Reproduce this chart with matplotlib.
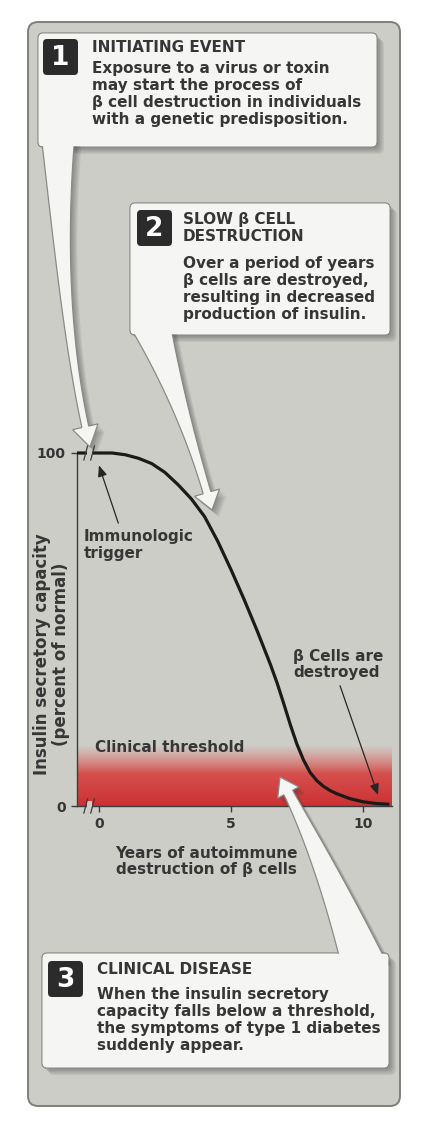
import numpy as np
import matplotlib
matplotlib.use('Agg')
import matplotlib.pyplot as plt
from matplotlib.patches import FancyBboxPatch, Polygon, Rectangle
import matplotlib.patheffects as pe

# curve: years of autoimmune destruction vs insulin capacity (%)
years = [-0.83, -0.2, 0.5, 1.0, 1.5, 2.0, 2.5, 3.0, 3.5, 4.0, 4.5, 5.0, 5.5,
         6.0, 6.5, 6.75, 7.0, 7.25, 7.5, 7.75, 8.0, 8.25, 8.5, 8.75, 9.0,
         9.5, 10.0, 10.5, 11.0]
capacity = [100, 100, 100, 99.5, 98.5, 97, 94.5, 91, 87, 82, 75, 67, 58.5,
            49.5, 40, 34.8, 29, 23, 17.5, 13, 9.5, 7.2, 5.6, 4.4, 3.5,
            2.1, 1.2, 0.7, 0.5]
x_ticks = [0, 5, 10]
y_ticks = [0, 100]
threshold_top = 17

box_titles = ["INITIATING EVENT", "SLOW \u03b2 CELL\nDESTRUCTION", "CLINICAL DISEASE"]
box_texts = [
    "Exposure to a virus or toxin\nmay start the process of\n\u03b2 cell destruction in individuals\nwith a genetic predisposition.",
    "Over a period of years\n\u03b2 cells are destroyed,\nresulting in decreased\nproduction of insulin.",
    "When the insulin secretory\ncapacity falls below a threshold,\nthe symptoms of type 1 diabetes\nsuddenly appear.",
]

PANEL = '#cdcdc8'
BOX = '#f5f5f3'
EDGE = '#8a8a86'
TXT = '#363636'

plt.rcParams['font.family'] = ['DejaVu Sans']
plt.rcParams['font.weight'] = 'bold'
plt.rcParams['axes.labelweight'] = 'bold'


def shadow():
    fx = [pe.SimplePatchShadow(offset=(o, -o), shadow_rgbFace='#303030', alpha=0.09)
          for o in (1, 2, 3, 4, 5)]
    return fx + [pe.Normal()]


def callout_tail(ax, p0, pc, tip, w0, w1, hw, hl, taper=1.0):
    p0, pc, tip = np.asarray(p0, float), np.asarray(pc, float), np.asarray(tip, float)
    t = np.linspace(0, 1, 120)[:, None]
    pts = (1 - t) ** 2 * p0 + 2 * (1 - t) * t * pc + t ** 2 * tip
    seg = np.r_[0, np.cumsum(np.hypot(*np.diff(pts, axis=0).T))]
    keep = seg <= seg[-1] - hl
    body = pts[keep]
    s = seg[keep] / seg[keep][-1]
    d = np.gradient(body, axis=0)
    d /= np.hypot(d[:, 0], d[:, 1])[:, None]
    n = np.c_[-d[:, 1], d[:, 0]]
    w = (w1 + (w0 - w1) * (1 - s) ** taper)[:, None]
    left = body + n * w / 2
    right = body - n * w / 2
    base = body[-1]
    hd = (tip - base) / np.hypot(*(tip - base))
    nb = np.array([-hd[1], hd[0]])
    poly = np.vstack([left, base + nb * hw / 2, tip, base - nb * hw / 2, right[::-1]])
    p = Polygon(poly, closed=True, fc=BOX, ec=EDGE, lw=0.9, joinstyle='miter', zorder=3)
    p.set_path_effects(shadow())
    ax.add_patch(p)


fig = plt.figure(figsize=(4.25, 11.21), dpi=100)

bg = fig.add_axes([0, 0, 1, 1], zorder=0)
bg.set_xlim(0, 425)
bg.set_ylim(1121, 0)
bg.axis('off')
bg.add_patch(FancyBboxPatch((28, 22), 372, 1084, boxstyle='round,pad=0,rounding_size=10',
                            fc=PANEL, ec='#7f7f7a', lw=1.4))

# ---------- chart ----------
ax = fig.add_axes([77 / 425, 315 / 1121, 315 / 425, 353 / 1121], zorder=2)
ax.patch.set_alpha(0)
xlim = (-0.83, 11.1)

yy = np.linspace(0, threshold_top, 120)
band = np.zeros((120, 1, 4))
mix = (yy / threshold_top)[:, None]
band[:, 0, :3] = (1 - mix) * np.array([0.80, 0.19, 0.20]) + mix * np.array([0.87, 0.42, 0.39])
band[:, 0, 3] = np.clip((threshold_top - yy) / 8.0, 0, 1)
ax.imshow(band, origin='lower', aspect='auto', extent=(xlim[0], xlim[1], 0, threshold_top),
          zorder=1, interpolation='bilinear')

ax.plot(years, capacity, color='#1a1a1a', lw=2.3, clip_on=False, zorder=3,
        solid_capstyle='butt', solid_joinstyle='round')

ax.set_xlim(*xlim)
ax.set_ylim(0, 100)
for side in ('top', 'right'):
    ax.spines[side].set_visible(False)
for side in ('left', 'bottom'):
    ax.spines[side].set_color('#3c3c3c')
    ax.spines[side].set_linewidth(1.0)
ax.set_xticks(x_ticks)
ax.set_yticks(y_ticks)
ax.tick_params(length=4, width=1, color='#3c3c3c', labelsize=10, labelcolor=TXT, pad=4)

# axis breaks
for yb in (100, 0):
    ax.add_patch(Rectangle((-0.47, yb - 1.5), 0.2, 3.0, fc=PANEL, ec='none',
                           zorder=4, clip_on=False))
    for xb in (-0.5, -0.24):
        ax.plot([xb - 0.07, xb + 0.07], [yb - 2.0, yb + 2.0], color='#3c3c3c', lw=0.9,
                clip_on=False, zorder=5)

ax.set_ylabel("Insulin secretory capacity\n(percent of normal)", fontsize=12,
              color=TXT, linespacing=1.05)
ax.yaxis.set_label_coords(-0.022, 0.43)
ax.set_xlabel("Years of autoimmune\ndestruction of \u03b2 cells", fontsize=11,
              color=TXT, linespacing=1.12)
ax.xaxis.set_label_coords(0.41, -0.113)

ax.text(-0.15, 16.7, "Clinical threshold", fontsize=11, color=TXT, va='center', ha='left',
        zorder=4)
ax.annotate("Immunologic\ntrigger", xy=(0.0, 96.5), xytext=(-0.57, 74), fontsize=11,
            color=TXT, ha='left', va='center', linespacing=1.2,
            arrowprops=dict(arrowstyle='-|>,head_length=0.6,head_width=0.25',
                            color='#262626', lw=0.9, shrinkA=2, shrinkB=0,
                            relpos=(0.33, 1.0)))
ax.annotate("\u03b2 Cells are\ndestroyed", xy=(10.57, 3.1), xytext=(7.35, 40), fontsize=11,
            color=TXT, ha='left', va='center', linespacing=1.1,
            arrowprops=dict(arrowstyle='-|>,head_length=0.6,head_width=0.25',
                            color='#262626', lw=0.9, shrinkA=2, shrinkB=0,
                            relpos=(0.5, 0.0)))

# ---------- callouts ----------
fg = fig.add_axes([0, 0, 1, 1], zorder=3)
fg.patch.set_alpha(0)
fg.set_xlim(0, 425)
fg.set_ylim(1121, 0)
fg.axis('off')

boxes = [(38, 33, 339, 114), (130, 203, 260, 132), (42, 953, 347, 115)]
for (bx, by, bw, bh) in boxes:
    b = FancyBboxPatch((bx, by), bw, bh, boxstyle='round,pad=0,rounding_size=5',
                       fc=BOX, ec=EDGE, lw=0.9, zorder=2)
    b.set_path_effects(shadow())
    fg.add_patch(b)

# tails start inside their box; the box fill laid over them hides the joint
tails = [
    ((58, 134), (61, 330), (90, 447), 34, 7, 26, 20, 2.2),
    ((150, 322), (188, 425), (212, 510), 40, 8, 26, 17, 2.0),
    ((364, 966), (325, 860), (280, 777), 44, 10, 24, 17, 1.3),
]
for p0, pc, tip, w0, w1, hw, hl, taper in tails:
    callout_tail(fg, p0, pc, tip, w0, w1, hw, hl, taper)
for (bx, by, bw, bh) in boxes:
    fg.add_patch(FancyBboxPatch((bx + 0.8, by + 0.8), bw - 1.6, bh - 1.6,
                                boxstyle='round,pad=0,rounding_size=4.5',
                                fc=BOX, ec='none', zorder=3.5))

num_boxes = [(43, 39), (137, 210), (48, 961)]
text_x = [92, 183, 97]
title_y = [40, 212, 962]
body_y = [61, 256, 987]
for i in range(3):
    nx, ny = num_boxes[i]
    fg.add_patch(FancyBboxPatch((nx, ny), 35, 36, boxstyle='round,pad=0,rounding_size=4',
                                fc='#2b2b2b', ec='none', zorder=5))
    fg.text(nx + 17.5, ny + 19, str(i + 1), color='white', fontsize=19, ha='center',
            va='center', zorder=6)
    fg.text(text_x[i], title_y[i], box_titles[i], fontsize=11, color=TXT, va='top',
            ha='left', linespacing=1.2, zorder=6)
    fg.text(text_x[i], body_y[i], box_texts[i], fontsize=11, color=TXT, va='top',
            ha='left', linespacing=1.17, zorder=6)

fig.savefig('out.png', dpi=100, facecolor='white')
